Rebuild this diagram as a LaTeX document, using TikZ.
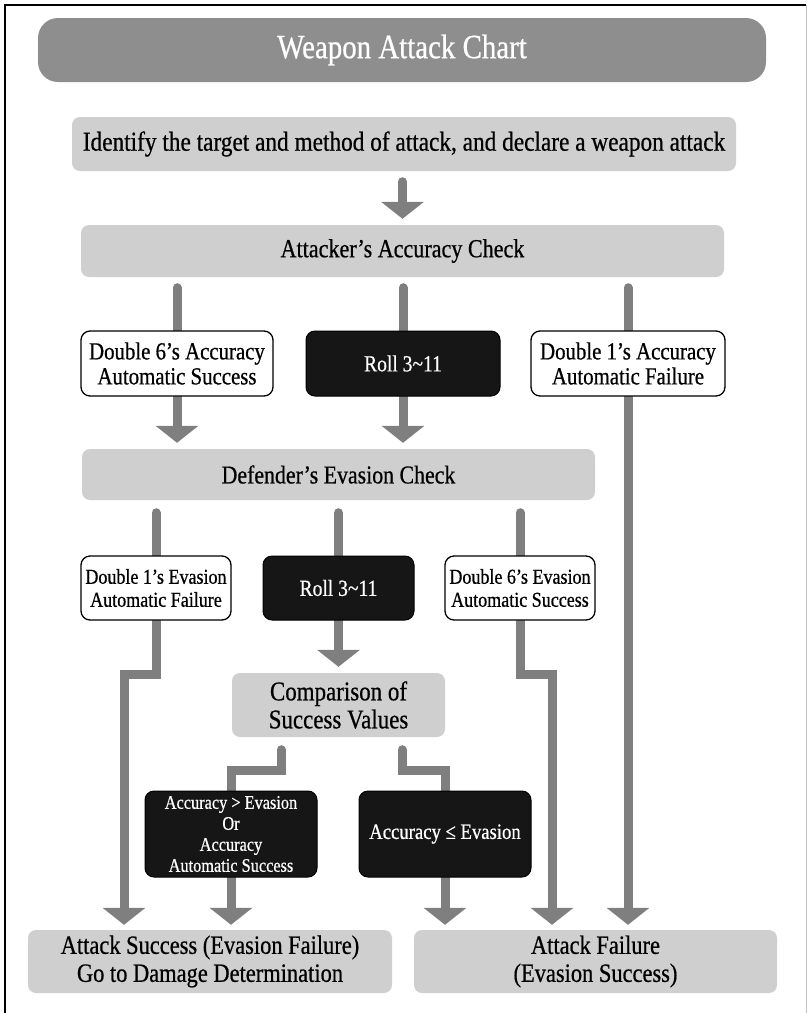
\documentclass[tikz,border=0pt]{standalone}
\usepackage{fontspec}
\setmainfont{Liberation Serif}[FakeStretch=0.85,FakeBold=0.6]
\usetikzlibrary{arrows.meta,backgrounds,calc}

\definecolor{titlegray}{HTML}{8E8E8E}
\definecolor{boxgray}{HTML}{CFCFCF}
\definecolor{flowgray}{HTML}{7F7F7F}
\definecolor{nightbox}{HTML}{161616}

\newcommand\fsz[2]{\fontsize{#1}{#2}\selectfont}

\begin{document}
\begin{tikzpicture}[x=1pt,y=-1pt,
  base/.style={rectangle, rounded corners=8pt, align=center, inner sep=0pt},
  headbox/.style={base, fill=titlegray, rounded corners=20pt, text=white, font=\fsz{34}{38}},
  stepbox/.style={base, fill=boxgray, font=\fsz{26}{28}},
  outcome/.style={base, fill=white, draw=black, line width=1.3pt, rounded corners=9pt},
  rollbox/.style={base, fill=nightbox, draw=black, line width=1pt, rounded corners=9pt, text=white},
  flow/.style={draw=flowgray, line width=9pt, line cap=round, line join=miter,
    -{Triangle[width=42pt,length=17pt]}},
]
\useasboundingbox (0,0) rectangle (808,1013);

% page frame
\draw[black, line width=2pt] (5,1013) -- (5,5) -- (806,5);
\draw[black!25, line width=1pt] (806.5,5) -- (806.5,1013);

% title and opening steps
\node[headbox, minimum width=728, minimum height=64] (title) at (402,50) {Weapon Attack Chart};
\node[stepbox, minimum width=664, minimum height=54, font=\fsz{27.4}{30}] (ident) at (404,144)
  {Identify the target and method of attack, and declare a weapon attack};
\node[stepbox, minimum width=643, minimum height=52] (att) at (402.5,251) {Attacker’s Accuracy Check};

% accuracy roll outcomes
\node[outcome, minimum width=192, minimum height=65, font=\fsz{24.5}{25}] (d6a) at (177,363.5)
  {Double 6’s Accuracy\\Automatic Success};
\node[rollbox, minimum width=194, minimum height=65, font=\fsz{23}{25}] (roll1) at (403,363.5) {Roll 3\textasciitilde 11};
\node[outcome, minimum width=194, minimum height=65, font=\fsz{24.5}{25}] (d1a) at (628,363.5)
  {Double 1’s Accuracy\\Automatic Failure};

\node[stepbox, minimum width=513, minimum height=51, font=\fsz{25.7}{28}] (def) at (338.5,474.5) {Defender’s Evasion Check};

% evasion roll outcomes
\node[outcome, minimum width=150, minimum height=64, font=\fsz{21.2}{23}] (d1e) at (156,588)
  {Double 1’s Evasion\\Automatic Failure};
\node[rollbox, minimum width=151, minimum height=64, font=\fsz{23}{25}] (roll2) at (338.5,588) {Roll 3\textasciitilde 11};
\node[outcome, minimum width=150, minimum height=64, font=\fsz{21.2}{23}] (d6e) at (520,588)
  {Double 6’s Evasion\\Automatic Success};

\node[stepbox, minimum width=213, minimum height=64, font=\fsz{27}{28}] (comp) at (338.5,705)
  {Comparison of\\Success Values};

% comparison results
\node[rollbox, minimum width=172, minimum height=86, font=\fsz{19.2}{21}] (acc1) at (231,834)
  {Accuracy > Evasion\\Or\\Accuracy\\Automatic Success};
\node[rollbox, minimum width=172, minimum height=86, font=\fsz{22}{24}] (acc2) at (445,834)
  {Accuracy ≤ Evasion};

% final results
\node[stepbox, minimum width=364, minimum height=63, font=\fsz{26.4}{28}] (succ) at (210,961.5)
  {Attack Success (Evasion Failure)\\Go to Damage Determination};
\node[stepbox, minimum width=363, minimum height=63, font=\fsz{26.4}{28}] (fail) at (595.5,961.5)
  {Attack Failure\\(Evasion Success)};

% connectors run behind the boxes
\begin{scope}[on background layer]
  \draw[flow] ($(ident.south -| att.north)+(0,10.5)$) -- ($(att.north)+(0,-6)$);

  \draw[flow] ($(att.south -| d6a.north)+(0,10.5)$) -- ($(def.north -| d6a.north)+(0,-6)$);
  \draw[flow] ($(att.south -| roll1.north)+(0,10.5)$) -- ($(def.north -| roll1.north)+(0,-6)$);
  \draw[flow] ($(att.south -| d1a.north)+(0,10.5)$) -- ($(fail.north -| d1a.north)+(0,-5)$);

  \draw[flow] ($(def.south -| d1e.north)+(0,12.5)$) -- ($(d1e.south)+(0,54)$)
    -| ($(succ.north)+(-86,-5)$);
  \draw[flow] ($(def.south -| roll2.north)+(0,12.5)$) -- ($(comp.north)+(0,-6)$);
  \draw[flow] ($(def.south -| d6e.north)+(0,12.5)$) -- ($(d6e.south)+(0,54)$)
    -| ($(fail.north)+(-43.5,-5)$);

  \draw[flow] ($(comp.south)+(-57.5,12.5)$) -- ++(0,20.5) -| ($(succ.north -| acc1.north)+(0,-5)$);
  \draw[flow] ($(comp.south)+(63.5,12.5)$) -- ++(0,20.5) -| ($(fail.north -| acc2.north)+(0,-5)$);
\end{scope}
\end{tikzpicture}
\end{document}
